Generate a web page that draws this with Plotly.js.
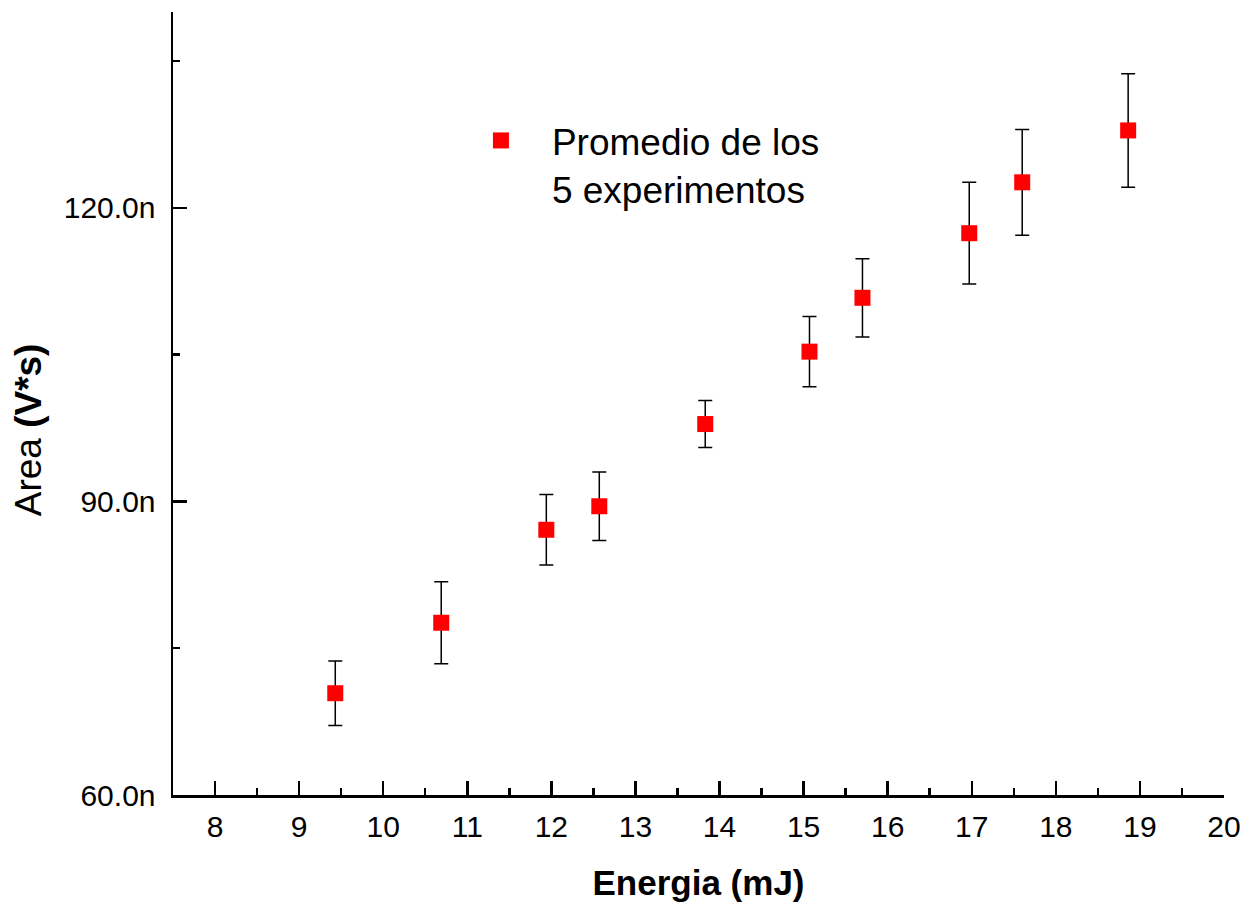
<!DOCTYPE html>
<html>
<head>
<meta charset="utf-8">
<script src="https://cdn.plot.ly/plotly-3.0.1.min.js"></script>
<style>html,body{margin:0;padding:0;background:#fff;}#chart{width:1246px;height:902px;}</style>
</head>
<body>
<div id="chart"></div>
<script>
// Energy (mJ)
const energia = [9.43, 10.69, 11.94, 12.57, 13.83, 15.07, 15.70, 16.97, 17.60, 18.86];
// Area (nV*s)
const area = [70.4, 77.6, 87.1, 89.5, 97.9, 105.3, 110.8, 117.4, 122.6, 127.9];
// Error (nV*s)
const errorArea = [3.3, 4.2, 3.6, 3.5, 2.4, 3.6, 4.0, 5.2, 5.4, 5.8];
const xTickVals = [8, 9, 10, 11, 12, 13, 14, 15, 16, 17, 18, 19, 20];
const yTickVals = [60, 90, 120];
const yTickText = ["60.0n", "90.0n", "120.0n"];
const seriesName = "Promedio de los<br>5 experimentos";
const xTitle = "<b>Energia (mJ)</b>";
const yTitle = "Area <b>(V*s)</b>";

const font = "Liberation Sans, Arial, sans-serif";

const trace = {
  x: energia,
  y: area,
  type: "scatter",
  mode: "markers",
  name: seriesName,
  marker: {symbol: "square", size: 16, color: "#ff0000"},
  error_y: {type: "data", array: errorArea, visible: true, color: "#000000", thickness: 1.5, width: 7}
};

const layout = {
  width: 1246, height: 902,
  paper_bgcolor: "#ffffff", plot_bgcolor: "#ffffff",
  margin: {l: 173, r: 22, t: 12, b: 107},
  font: {family: font, color: "#000"},
  showlegend: true,
  legend: {x: 0.2635, y: 0.875, xanchor: "left", yanchor: "top", valign: "top",
           font: {family: font, size: 37, color: "#000"}, bgcolor: "rgba(0,0,0,0)",
           itemwidth: 92},
  xaxis: {
    range: [7.5, 20], showgrid: false, zeroline: false,
    showline: true, linecolor: "#000", linewidth: 2.5, mirror: false,
    tickmode: "array", tickvals: xTickVals,
    ticks: "inside", ticklen: 14, tickwidth: 2.5, tickcolor: "#000",
    minor: {tickvals: [7.5,8.5,9.5,10.5,11.5,12.5,13.5,14.5,15.5,16.5,17.5,18.5,19.5], ticks: "inside", ticklen: 7, tickwidth: 2.5, tickcolor: "#000"},
    tickfont: {family: font, size: 30, color: "#000"},
    ticklabelstandoff: 3,
    title: {text: xTitle, font: {family: font, size: 35, color: "#000"}, standoff: 29}
  },
  yaxis: {
    range: [60, 140], showgrid: false, zeroline: false,
    showline: true, linecolor: "#000", linewidth: 2.5,
    tickmode: "array", tickvals: yTickVals, ticktext: yTickText,
    ticks: "inside", ticklen: 14, tickwidth: 2.5, tickcolor: "#000",
    minor: {tickvals: [75, 105, 135], ticks: "inside", ticklen: 7, tickwidth: 2.5, tickcolor: "#000"},
    tickfont: {family: font, size: 30, color: "#000"},
    ticklabelstandoff: 9,
    title: {text: ""}
  },
  annotations: [{
    text: yTitle, xref: "paper", yref: "paper",
    x: -0.138, y: 0.467, xanchor: "center", yanchor: "middle",
    textangle: -90, showarrow: false,
    font: {family: font, size: 37, color: "#000"}
  }]
};

Plotly.newPlot("chart", [trace], layout, {displayModeBar: false, staticPlot: true});
</script>
</body>
</html>
